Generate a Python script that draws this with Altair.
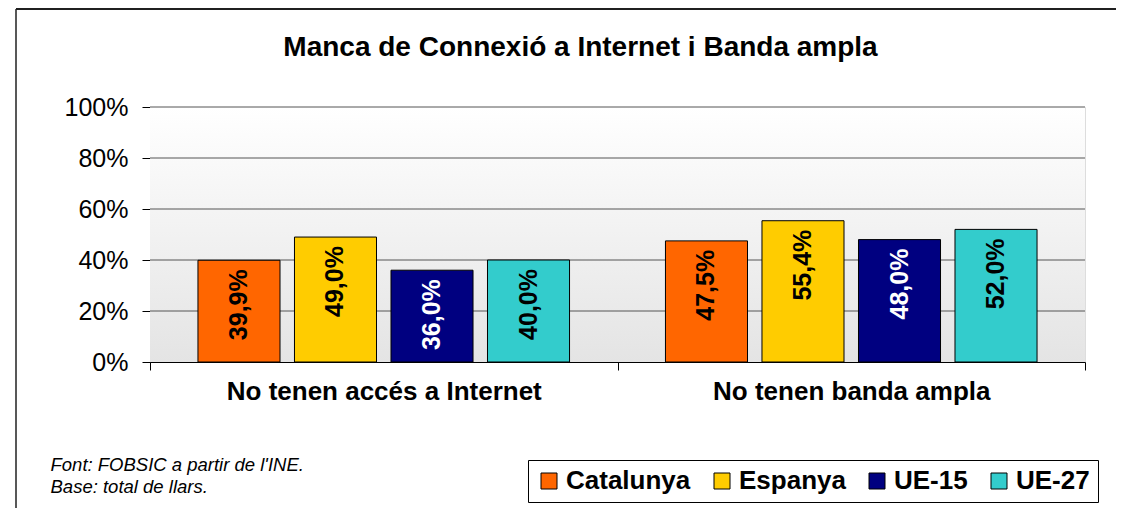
import altair as alt
import pandas as pd

categories = ["No tenen accés a Internet", "No tenen banda ampla"]
series = ["Catalunya", "Espanya", "UE-15", "UE-27"]
values = {
    "Catalunya": [39.9, 47.5],
    "Espanya": [49.0, 55.4],
    "UE-15": [36.0, 48.0],
    "UE-27": [40.0, 52.0],
}
colors = ["#FF6600", "#FFCC00", "#000080", "#33CCCC"]
y_ticks = [0, 20, 40, 60, 80, 100]
grid_values = [20, 40, 60, 80, 100]
title_text = "Manca de Connexió a Internet i Banda ampla"
footnote = ["Font: FOBSIC a partir de l'INE.", "Base: total de llars."]

rows = []
for s in series:
    for c, v in zip(categories, values[s]):
        rows.append({"cat": c, "series": s, "value": v,
                     "label": f"{v:.1f}".replace(".", ",") + "%"})
df = pd.DataFrame(rows)

W, H = 935, 255
FONT = "Liberation Sans"

yscale = alt.Scale(domain=[0, 100])

bg = alt.Chart(pd.DataFrame({"a": [0]})).mark_rect(
    fill=alt.Gradient(gradient="linear", x1=0, x2=0, y1=0, y2=1,
                      stops=[alt.GradientStop(color="#ffffff", offset=0),
                             alt.GradientStop(color="#e4e4e4", offset=1)])
).encode(x=alt.value(0), x2=alt.value(W), y=alt.value(0), y2=alt.value(H))

grid = alt.Chart(pd.DataFrame({"value": grid_values})).mark_rule(
    color="#555555", strokeWidth=1
).encode(y=alt.Y("value:Q", scale=yscale))

x_enc = alt.X("cat:N", sort=categories,
              scale=alt.Scale(paddingInner=0, paddingOuter=0),
              axis=alt.Axis(title=footnote, labelFont=FONT, labelFontSize=26,
                            labelFontWeight="bold", labelColor="black",
                            labelPadding=8, labelLimit=800, tickSize=8,
                            tickColor="black",
                            domainColor="black", tickBand="extent",
                            labelAngle=0,
                            titleFont=FONT, titleFontSize=18.5,
                            titleFontStyle="italic", titleFontWeight="normal",
                            titleColor="black", titleAnchor="start",
                            titleAlign="left", titleBaseline="alphabetic",
                            titleX=-100, titleY=108, titleLineHeight=22))
xoff_scale = alt.Scale(paddingInner=0.15, paddingOuter=0.497)
xoff = alt.XOffset("series:N", sort=series, scale=xoff_scale)
y_enc = alt.Y("value:Q", scale=yscale,
              axis=alt.Axis(title=None, values=y_ticks, grid=False,
                            labelExpr="datum.value + '%'",
                            labelFont=FONT, labelFontSize=25,
                            labelColor="black", labelPadding=14,
                            tickSize=8, tickColor="black", domainColor="black"))

bars = alt.Chart(df).mark_bar(stroke="black", strokeWidth=1).encode(
    x=x_enc, xOffset=xoff, y=y_enc,
    color=alt.Color("series:N", sort=series,
                    scale=alt.Scale(domain=series, range=colors),
                    legend=alt.Legend(title=None, orient="none",
                                      direction="horizontal",
                                      legendX=378, legendY=353,
                                      strokeColor="black", fillColor="white",
                                      padding=8, labelFont=FONT,
                                      labelFontSize=26, labelFontWeight="bold",
                                      labelColor="black", symbolType="square",
                                      symbolSize=256, symbolStrokeColor="black",
                                      symbolStrokeWidth=1, labelOffset=4,
                                      columnPadding=18)),
)

labels = alt.Chart(df).mark_text(
    angle=270, align="right", baseline="middle", dx=-9,
    font=FONT, fontSize=25, fontWeight="bold"
).encode(
    x=alt.X("cat:N", sort=categories), xOffset=alt.XOffset("series:N", sort=series),
    y=alt.Y("value:Q", scale=yscale),
    text="label:N",
    color=alt.condition(alt.datum.series == "UE-15", alt.value("white"), alt.value("black")),
)

frame_top = alt.Chart(pd.DataFrame({"a": [0]})).mark_rule(
    color="#202020", strokeWidth=2
).encode(x=alt.value(-134), x2=alt.value(W + 40), y=alt.value(-98))
frame_left = alt.Chart(pd.DataFrame({"a": [0]})).mark_rule(
    color="#202020", strokeWidth=1.5
).encode(x=alt.value(-134), y=alt.value(-98), y2=alt.value(H + 150))

chart = alt.layer(bg, grid, bars, labels, frame_top, frame_left).properties(
    width=W, height=H,
    title=alt.TitleParams(title_text, font=FONT, fontSize=28, fontWeight="bold",
                          color="black", anchor="middle", frame="group",
                          baseline="alphabetic", offset=0, dy=76, dx=-37),
    autosize=alt.AutoSizeParams(type="none"),
    padding={"left": 142, "top": 99, "right": 31, "bottom": 146},
).configure_view(stroke="#808080", strokeWidth=1).configure(background="white")

chart.save("out.html", embed_options={"renderer": "svg", "actions": False})
